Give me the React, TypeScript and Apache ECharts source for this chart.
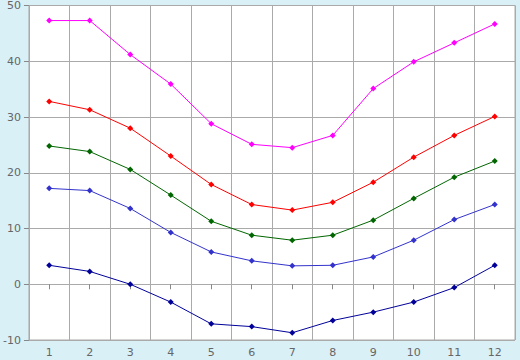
import React, { useEffect, useRef } from "react";
import * as echarts from "echarts";

const categories = ["1", "2", "3", "4", "5", "6", "7", "8", "9", "10", "11", "12"];
const magentaValues = [47.3, 47.3, 41.2, 35.9, 28.8, 25.1, 24.5, 26.7, 35.1, 39.9, 43.3, 46.7];
const redValues = [32.8, 31.3, 28.0, 23.0, 17.9, 14.3, 13.3, 14.7, 18.3, 22.8, 26.7, 30.1];
const greenValues = [24.8, 23.8, 20.6, 16.0, 11.3, 8.8, 7.9, 8.8, 11.5, 15.4, 19.2, 22.1];
const blueValues = [17.2, 16.8, 13.6, 9.3, 5.8, 4.2, 3.3, 3.4, 4.9, 7.9, 11.6, 14.3];
const navyValues = [3.4, 2.3, 0.0, -3.2, -7.1, -7.6, -8.7, -6.5, -5.0, -3.2, -0.6, 3.4];

const seriesList = [
  { name: "magenta", data: magentaValues, color: "#ff00ff" },
  { name: "red", data: redValues, color: "#ff0000" },
  { name: "green", data: greenValues, color: "#006600" },
  { name: "blue", data: blueValues, color: "#3333cc" },
  { name: "navy", data: navyValues, color: "#000099" },
];

export default function App() {
  const ref = useRef<HTMLDivElement>(null);
  useEffect(() => {
    if (!ref.current) return;
    const chart = echarts.init(ref.current, null, { renderer: "svg" });
    chart.setOption({
      animation: false,
      backgroundColor: "#daf0f7",
      grid: {
        left: 26,
        right: 5,
        top: 5,
        bottom: 20,
        show: true,
        backgroundColor: "#ffffff",
        borderColor: "#aaaaaa",
        borderWidth: 1,
      },
      xAxis: {
        type: "category",
        data: categories,
        boundaryGap: true,
        axisLine: { show: true, lineStyle: { color: "#aaaaaa", width: 1 } },
        axisTick: { show: true, alignWithLabel: true, length: 5, lineStyle: { color: "#888888" } },
        axisLabel: { color: "#666666", fontFamily: "DejaVu Sans", fontSize: 11, margin: 7 },
        splitLine: { show: true, lineStyle: { color: "#aaaaaa", width: 1 } },
      },
      yAxis: {
        type: "value",
        min: -10,
        max: 50,
        interval: 10,
        axisLine: { show: true, lineStyle: { color: "#aaaaaa", width: 1 } },
        axisTick: { show: true, length: 5, lineStyle: { color: "#888888" } },
        axisLabel: { color: "#666666", fontFamily: "DejaVu Sans", fontSize: 11, margin: 8 },
        splitLine: { show: true, lineStyle: { color: "#aaaaaa", width: 1 } },
      },
      series: seriesList.map((s) => ({
        name: s.name,
        type: "line",
        data: s.data,
        symbol: "diamond",
        symbolSize: 6,
        showSymbol: true,
        lineStyle: { color: s.color, width: 1 },
        itemStyle: { color: s.color },
      })),
    });
    return () => chart.dispose();
  }, []);
  return (
    <div
      ref={ref}
      style={{ position: "fixed", left: 0, top: 0, width: 520, height: 360 }}
    />
  );
}
